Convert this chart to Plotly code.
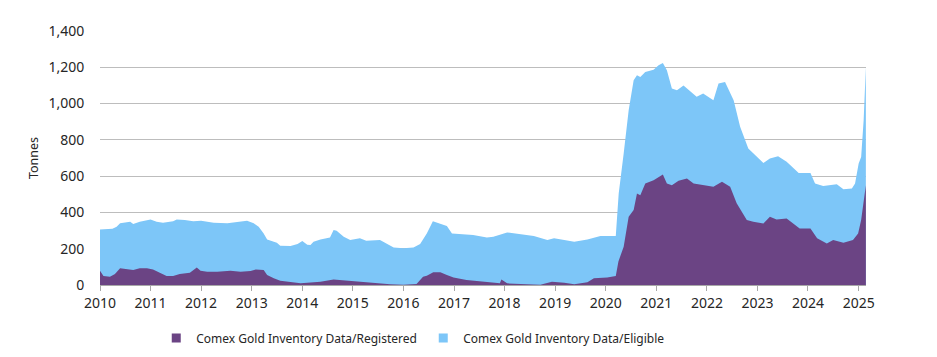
import plotly.graph_objects as go

# Total inventory (registered + eligible), tonnes
total_dates = [
    "2010-01-01", "2010-04-01", "2010-05-01", "2010-05-26", "2010-08-07", "2010-08-29", "2010-10-15",
    "2011-01-01", "2011-02-14", "2011-04-01", "2011-06-13", "2011-07-09", "2011-09-05", "2011-11-06",
    "2012-01-01", "2012-04-01", "2012-07-09", "2012-10-12", "2012-11-28",
    "2013-01-15", "2013-02-20", "2013-03-28", "2013-04-22", "2013-07-01", "2013-07-26", "2013-10-08", "2013-11-28",
    "2014-01-01", "2014-02-06", "2014-03-01", "2014-03-23", "2014-05-12", "2014-07-20", "2014-08-15", "2014-09-06",
    "2014-10-27", "2014-12-13",
    "2015-02-21", "2015-04-08", "2015-07-16", "2015-09-02", "2015-10-23",
    "2016-01-01", "2016-03-14", "2016-05-01", "2016-06-18", "2016-08-01", "2016-09-24", "2016-11-10", "2016-12-17",
    "2017-02-14", "2017-05-19", "2017-08-26", "2017-10-12",
    "2018-01-19", "2018-04-23", "2018-07-31", "2018-11-06", "2018-12-24",
    "2019-03-08", "2019-05-19", "2019-08-22", "2019-11-24",
    "2020-03-14", "2020-04-04", "2020-05-10", "2020-06-15", "2020-07-21", "2020-08-14", "2020-09-07", "2020-10-13",
    "2020-12-12",
    "2021-01-17", "2021-02-17", "2021-03-18", "2021-04-23", "2021-05-30", "2021-07-16", "2021-08-22", "2021-10-19",
    "2021-12-05",
    "2022-02-17", "2022-03-26", "2022-05-12", "2022-07-13", "2022-08-29", "2022-10-27", "2022-12-28",
    "2023-02-13", "2023-04-01", "2023-05-30", "2023-07-31", "2023-10-26",
    "2024-01-19", "2024-02-21", "2024-04-20", "2024-07-27", "2024-09-13", "2024-11-13", "2024-12-06",
    "2025-01-01", "2025-01-19", "2025-02-06", "2025-02-22",
]
total_tonnes = [
    306, 310, 321, 340, 349, 336, 349,
    361, 349, 343, 352, 361, 358, 352,
    354, 343, 340, 349, 354,
    340, 321, 284, 251, 233, 216, 215, 226,
    242, 222, 220, 239, 251, 262, 303, 299,
    266, 248,
    257, 244, 248, 229, 207,
    202, 207, 226, 284, 352, 336, 325, 284,
    279, 275, 262, 266,
    290, 281, 270, 248, 257,
    248, 239, 251, 270,
    270, 505, 725, 963, 1128, 1156, 1147, 1174,
    1187,
    1211, 1224, 1183, 1083, 1073, 1099, 1073, 1037,
    1055,
    1018, 1110, 1119, 1018, 872, 752, 706,
    673, 697, 710, 679, 618,
    618, 560, 545, 556, 528, 532, 560,
    670, 706, 908, 1202,
]

# Registered inventory, tonnes
registered_dates = [
    "2010-01-01", "2010-01-26", "2010-03-14", "2010-04-19", "2010-05-26", "2010-07-13", "2010-08-29", "2010-10-15",
    "2010-12-06",
    "2011-01-19", "2011-03-11", "2011-04-27", "2011-06-13", "2011-07-31", "2011-10-12", "2011-12-01", "2011-12-28",
    "2012-02-14", "2012-04-27", "2012-07-31", "2012-10-12", "2012-12-24",
    "2013-01-30", "2013-03-28", "2013-04-22", "2013-06-09", "2013-07-26", "2013-10-08", "2013-12-20",
    "2014-02-06", "2014-05-12", "2014-08-15", "2014-12-13",
    "2015-04-08", "2015-07-16", "2015-09-27",
    "2016-01-01", "2016-04-05", "2016-05-22", "2016-06-18", "2016-08-04", "2016-09-24", "2016-11-10", "2016-12-28",
    "2017-04-01", "2017-08-26", "2017-11-28", "2017-12-09",
    "2018-01-19", "2018-06-10", "2018-09-16", "2018-12-09",
    "2019-03-08", "2019-05-19", "2019-08-22", "2019-10-08",
    "2020-01-12", "2020-03-14", "2020-04-02", "2020-05-10", "2020-06-15", "2020-07-21", "2020-08-14", "2020-09-07",
    "2020-10-13", "2020-12-12",
    "2021-01-17", "2021-02-17", "2021-03-18", "2021-04-23", "2021-06-10", "2021-08-10", "2021-09-27", "2021-12-05",
    "2022-02-17", "2022-04-20", "2022-06-18", "2022-08-04", "2022-10-16", "2022-12-02",
    "2023-02-13", "2023-04-01", "2023-05-19", "2023-07-31", "2023-11-02",
    "2024-01-19", "2024-03-07", "2024-05-16", "2024-07-01", "2024-09-13", "2024-11-21", "2024-12-28",
    "2025-01-19", "2025-02-22",
]
registered_tonnes = [
    79, 50, 46, 61, 92, 86, 83, 92,
    92,
    86, 68, 50, 50, 61, 68, 97, 79,
    73, 73, 79, 73, 77,
    86, 83, 55, 37, 24, 18, 9,
    12, 18, 31, 22,
    17, 9, 4,
    2, 6, 46, 51, 70, 70, 55, 42,
    28, 18, 9, 31,
    9, 4, 1, 18,
    13, 4, 15, 37,
    42, 50, 130, 211, 376, 413, 505, 495,
    560, 578,
    596, 609, 560, 550, 574, 587, 560, 550,
    541, 569, 541, 450, 358, 349,
    339, 376, 361, 367, 312,
    312, 257, 229, 248, 233, 248, 284,
    358, 550,
]

year_ticks = [f"{y}-01-01" for y in range(2010, 2026)]
year_labels = [str(y) for y in range(2010, 2026)]

PURPLE = "#6B4484"
BLUE = "#7DC6F8"
FONT = "Noto Sans"
TEXT = "#262626"

fig = go.Figure()

fig.add_trace(go.Scatter(
    x=total_dates, y=total_tonnes, mode="lines", fill="tozeroy",
    line=dict(width=0, color=BLUE), fillcolor=BLUE, showlegend=False,
    hoverinfo="skip",
))
fig.add_trace(go.Scatter(
    x=registered_dates, y=registered_tonnes, mode="lines", fill="tozeroy",
    line=dict(width=0, color=PURPLE), fillcolor=PURPLE, showlegend=False,
    hoverinfo="skip",
))
# legend entries with small square swatches
fig.add_trace(go.Scatter(
    x=[None], y=[None], mode="markers", name="Comex Gold Inventory Data/Registered",
    marker=dict(symbol="square", size=9, color=PURPLE),
))
fig.add_trace(go.Scatter(
    x=[None], y=[None], mode="markers", name="Comex Gold Inventory Data/Eligible",
    marker=dict(symbol="square", size=9, color=BLUE),
))

# page body has an 8px margin, so the figure is sized to fit inside it
fig.update_layout(
    width=921, height=341,
    margin=dict(l=92, r=63, t=23, b=64),
    paper_bgcolor="white", plot_bgcolor="white",
    font=dict(family=FONT, size=14, color=TEXT),
    showlegend=True,
    legend=dict(
        orientation="h", xref="paper", x=0.422, xanchor="center",
        yref="container", y=1 - 330 / 341, yanchor="middle",
        font=dict(family=FONT, size=12, color=TEXT),
        itemwidth=30, entrywidth=222,
    ),
)
fig.update_xaxes(
    type="date", range=["2010-01-01", "2025-02-23"],
    tickvals=year_ticks, ticktext=year_labels,
    showgrid=False, zeroline=False, automargin=False,
    showline=True, linecolor="#A8A8A8", linewidth=1,
    ticks="outside", ticklen=5, tickcolor="#A8A8A8",
    tickfont=dict(family=FONT, size=14, color=TEXT),
)
fig.update_yaxes(
    range=[0, 1400], dtick=200, tickformat=",",
    showgrid=True, gridcolor="#BDBDBD", gridwidth=1.3,
    zeroline=False, showline=False, automargin=False,
    ticks="outside", ticklen=12, tickcolor="rgba(0,0,0,0)",
    title=dict(text="Tonnes", font=dict(family=FONT, size=12.5, color=TEXT), standoff=7),
    tickfont=dict(family=FONT, size=14, color=TEXT),
)

fig.write_html("out.html")
